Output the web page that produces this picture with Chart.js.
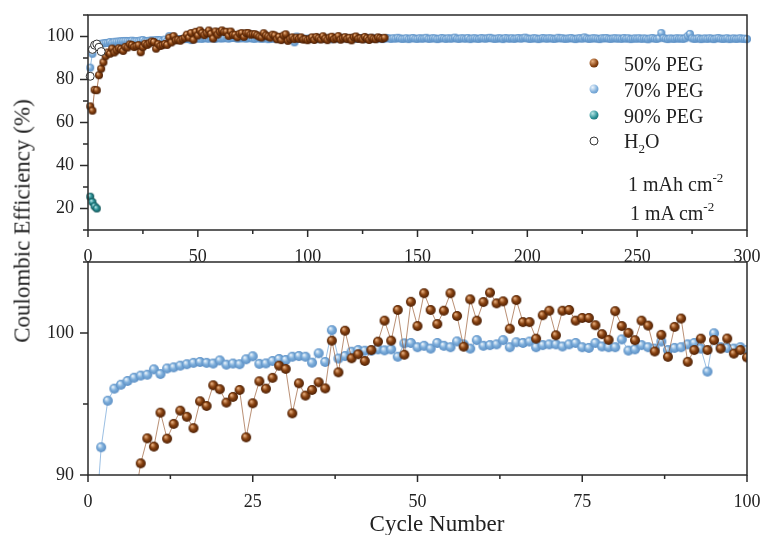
<!DOCTYPE html>
<html><head><meta charset="utf-8">
<script src="https://cdn.jsdelivr.net/npm/chart.js@4/dist/chart.umd.min.js"></script>
<style>
html,body{margin:0;padding:0;background:#fff;}
#wrap{position:relative;width:763px;height:535px;overflow:hidden;font-family:"Liberation Serif","Times New Roman",serif;color:#222;}
canvas{position:absolute;left:0;}
#c1{top:0;} #c2{top:252px;}
.lbl{position:absolute;white-space:nowrap;line-height:1;}
.lg{position:absolute;left:624px;font-size:20px;line-height:1;transform:translateY(-50%);white-space:nowrap;}
.mk{position:absolute;width:9px;height:9px;border-radius:50%;transform:translate(-50%,-50%);left:594px;}
sup{font-size:13px;vertical-align:0;position:relative;top:-9px;}
sub{font-size:13px;vertical-align:0;position:relative;top:5px;}
</style></head><body>
<div id="wrap">
<canvas id="c1" width="763" height="262" style="width:763px;height:262px"></canvas>
<canvas id="c2" width="763" height="283" style="width:763px;height:283px"></canvas>
<div class="lbl" id="ytitle" style="left:22px;top:221px;font-size:23px;transform:translate(-50%,-50%) rotate(-90deg);">Coulombic Efficiency (%)</div>
<div class="lbl" id="xtitle" style="left:437px;top:523px;font-size:23px;transform:translate(-50%,-50%);">Cycle Number</div>
<div class="mk" style="top:63px;background:radial-gradient(circle at 35% 32%,#e8b080 0%,#8a4412 55%,#4a1e04 100%);"></div>
<div class="lg" style="top:64px;">50% PEG</div>
<div class="mk" style="top:89px;background:radial-gradient(circle at 35% 32%,#eef5fc 0%,#7eaedb 55%,#5b8fc4 100%);"></div>
<div class="lg" style="top:90px;">70% PEG</div>
<div class="mk" style="top:115px;background:radial-gradient(circle at 35% 32%,#b8e6e6 0%,#2a9196 55%,#15595c 100%);"></div>
<div class="lg" style="top:116px;">90% PEG</div>
<div class="mk" style="top:141px;width:7px;height:7px;background:#fff;border:1px solid #333;"></div>
<div class="lg" style="top:141px;">H<sub>2</sub>O</div>
<div class="lbl" style="left:628px;top:174px;font-size:20px;">1 mAh cm<sup>-2</sup></div>
<div class="lbl" style="left:630px;top:203px;font-size:20px;">1 mA cm<sup>-2</sup></div>
</div>
<script>
// ---- data ----
const peg50 = [
67.5,65.5,75.2,75.0,82.0,85.0,88.0,90.82,92.58,92.0,
94.39,92.56,93.6,94.53,94.1,93.3,95.19,94.86,96.32,96.04,
95.1,95.5,95.99,92.65,95.05,96.6,96.08,96.84,97.7,97.47,
94.34,96.46,95.59,95.99,96.53,96.1,99.46,97.23,100.16,98.22,
98.5,98.03,98.8,99.39,100.87,99.46,101.62,98.47,102.2,100.49,
102.8,101.62,100.63,101.57,102.8,101.2,99.04,102.37,100.87,102.18,
102.84,102.09,102.23,100.3,102.32,100.77,100.77,99.6,101.25,101.57,
99.84,101.57,101.62,100.87,101.06,101.06,100.55,99.92,99.52,101.54,
100.49,100.01,99.49,100.87,100.52,98.7,99.87,98.32,100.43,101.02,
97.97,98.8,99.6,98.8,99.5,98.9,99.61,98.55,98.8,98.28,
98.9,99.6,98.4,99.8,99.2,98.6,100.1,99.0,98.3,99.5,
99.9,98.7,99.3,100.2,98.5,99.1,99.7,98.8,99.4,98.2,
99.6,100.0,98.9,99.2,98.6,99.8,99.1,98.4,99.5,99.0,
98.7,99.6,99.3,98.9,99.4];
const peg70 = [
85.5,91.95,95.23,96.08,96.36,96.62,96.85,97.0,97.06,97.44,
97.11,97.5,97.58,97.7,97.8,97.9,97.96,97.9,97.85,98.07,
97.77,97.85,97.8,98.15,98.36,97.83,97.86,98.03,98.17,98.1,
98.33,98.38,98.33,97.91,98.57,97.96,100.2,98.2,98.38,98.68,
98.8,98.75,98.75,98.85,98.78,98.85,98.33,99.27,99.3,99.0,
99.1,98.9,99.3,99.1,99.0,99.41,99.2,98.9,99.5,99.1,
99.15,99.2,99.5,99.0,99.35,99.3,99.4,99.0,99.15,99.2,
99.2,99.05,99.2,99.3,99.0,98.95,99.3,99.05,99.0,99.0,
99.55,98.76,98.85,99.15,99.0,98.9,99.4,98.8,98.95,99.0,
99.2,99.3,98.9,97.28,99.98,99.0,98.95,98.9,99.0,98.8,
99.1,98.9,99.2,99.0,98.8,99.3,99.1,98.9,99.0,99.2,
98.7,99.1,99.3,99.0,98.9,99.2,99.4,99.0,98.8,99.1,
99.2,98.9,99.0,99.3,99.1,98.8,99.0,99.2,99.4,99.0,
98.9,99.1,99.2,98.8,99.0,99.3,99.1,98.9,99.2,99.0,
99.4,99.1,98.9,99.0,99.2,98.8,99.1,99.3,99.0,98.9,
99.2,99.0,99.1,99.4,98.9,99.0,99.2,99.1,98.8,99.0,
99.3,99.1,98.9,99.2,99.0,99.1,99.5,99.0,98.9,99.2,
99.1,99.0,99.3,98.8,99.1,99.2,99.0,98.9,99.3,99.1,
99.0,99.2,99.4,99.1,98.9,99.0,99.2,99.1,98.8,99.3,
99.1,99.0,99.2,98.9,99.1,99.3,99.0,99.2,99.5,99.1,
98.9,99.0,99.2,99.1,98.8,99.0,99.3,99.1,99.0,99.2,
99.1,98.9,99.0,99.4,99.1,99.2,98.9,99.0,99.1,99.3,
99.0,98.8,99.1,99.2,99.0,99.6,99.1,98.9,99.0,99.2,
99.1,99.0,98.8,99.2,99.1,99.3,99.0,98.9,99.1,99.2,
99.0,99.1,98.9,99.3,99.0,99.2,98.8,99.0,99.1,99.0,
99.2,98.9,99.1,99.0,98.7,99.1,99.3,99.0,98.9,99.2,
101.6,99.3,99.0,98.8,99.1,99.0,98.9,99.2,99.0,99.1,
98.9,99.2,100.2,101.2,99.1,98.9,99.0,99.2,98.8,99.0,
99.1,98.9,99.2,99.0,98.8,99.1,99.3,99.0,98.9,99.0,
99.2,98.8,99.0,99.1,98.9,99.0,99.2,98.9,99.0,98.8];
const peg90 = [25.5,23.0,21.0,20.0];
const water = [81.5,94.0,96.0,96.5,95.0,93.0];
const seriesNames = ['50% PEG','70% PEG','90% PEG','H2O'];
const topXTicks = [0,50,100,150,200,250,300];
const topYTicks = [20,40,60,80,100];
const botXTicks = [0,25,50,75,100];
const botYTicks = [90,100];

const pts = (arr, maxX) => arr.map((v,i)=>({x:i+1,y:v})).filter(p=>p.x<=maxX);

function sphere(r, light, base, dark){
  const s = Math.ceil(2*r+2), c = s/2;
  const cv = document.createElement('canvas'); cv.width=s; cv.height=s;
  const g = cv.getContext('2d');
  const grad = g.createRadialGradient(c-r*0.35, c-r*0.4, r*0.05, c, c, r);
  grad.addColorStop(0, light); grad.addColorStop(0.5, base); grad.addColorStop(1, dark);
  g.fillStyle = grad; g.beginPath(); g.arc(c,c,r,0,Math.PI*2); g.fill();
  return cv;
}
const COL = {
  brown:['#f0b888','#8a4412','#4a1e04'],
  blue:['#f2f8fd','#80b0dc','#5a8ec4'],
  teal:['#c0eaea','#2a9196','#135255']
};
const FONT = {family:'"Liberation Serif","Times New Roman",serif', size:18};
const AX = '#2a2a2a';

const framePlugin = {
  id:'frame',
  beforeDraw(chart){
    if(chart.options.plugins.frame && chart.options.plugins.frame.fill){
      const a = chart.chartArea, ctx = chart.ctx;
      ctx.save(); ctx.fillStyle='#fff'; ctx.fillRect(a.left,a.top,a.right-a.left,a.bottom-a.top); ctx.restore();
    }
  },
  afterDraw(chart){
    const a = chart.chartArea, ctx = chart.ctx;
    ctx.save();
    ctx.strokeStyle = AX; ctx.lineWidth = 1.5;
    ctx.strokeRect(a.left, a.top, a.right-a.left, a.bottom-a.top);
    const sx = chart.scales.x, sy = chart.scales.y;
    const majX = chart.options.plugins.frame.majX, majY = chart.options.plugins.frame.majY;
    sx.ticks.forEach(t=>{
      const p = sx.getPixelForValue(t.value);
      const len = majX.includes(t.value) ? 7 : 4;
      ctx.beginPath(); ctx.moveTo(p, a.bottom); ctx.lineTo(p, a.bottom+len); ctx.stroke();
    });
    sy.ticks.forEach(t=>{
      const p = sy.getPixelForValue(t.value);
      const len = majY.includes(t.value) ? 8 : 5;
      ctx.beginPath(); ctx.moveTo(a.left, p); ctx.lineTo(a.left-len, p); ctx.stroke();
    });
    ctx.restore();
  }
};

function axes(xmin,xmax,xstep,xlabels,ymin,ymax,ystep,ylabels,xh,xpad){
  return {
    x:{type:'linear',min:xmin,max:xmax,position:'bottom',
       ticks:{stepSize:xstep,autoSkip:false,maxRotation:0,font:FONT,color:'#222',padding:xpad,
              callback:v=>xlabels.includes(v)?String(v):''},
       grid:{drawOnChartArea:false,tickLength:7,tickColor:'rgba(0,0,0,0)'},
       border:{display:false},
       afterFit:s=>{s.height=xh;s.paddingLeft=0;s.paddingRight=0;}},
    y:{type:'linear',min:ymin,max:ymax,
       ticks:{stepSize:ystep,autoSkip:false,font:FONT,color:'#222',padding:6,
              callback:v=>ylabels.includes(v)?String(v):''},
       grid:{drawOnChartArea:false,tickLength:8,tickColor:'rgba(0,0,0,0)'},
       border:{display:false},
       afterFit:s=>{s.width=88;s.paddingTop=0;s.paddingBottom=0;}}
  };
}

// ---- top chart ----
const rT = 4;
new Chart(document.getElementById('c1'), {
  type:'line',
  data:{datasets:[
    {label:seriesNames[3], data:pts(water,300), showLine:false, pointStyle:'circle', pointRadius:4,
     pointBackgroundColor:'#fff', pointBorderColor:'#333', pointBorderWidth:1},
    {label:seriesNames[2], data:pts(peg90,300), borderColor:'#3a9a9e', borderWidth:1,
     pointStyle:sphere(rT,...COL.teal), pointRadius:rT},
    {label:seriesNames[0], data:pts(peg50,300), borderColor:'rgba(140,70,25,0.7)', borderWidth:1,
     pointStyle:sphere(rT,...COL.brown), pointRadius:rT},
    {label:seriesNames[1], data:pts(peg70,300), borderColor:'rgba(120,170,215,0.8)', borderWidth:1,
     pointStyle:sphere(rT,...COL.blue), pointRadius:rT}
  ]},
  options:{
    responsive:false, animation:false, devicePixelRatio:1,
    layout:{padding:{top:15,right:16,left:0,bottom:0}},
    datasets:{line:{clip:false,tension:0}},
    plugins:{legend:{display:false},tooltip:{enabled:false},
             frame:{fill:false,majX:topXTicks,majY:topYTicks}},
    scales:axes(0,300,25,topXTicks,10,110,10,topYTicks,32,9)
  },
  plugins:[framePlugin]
});

// ---- bottom chart ----
const rB = 5;
new Chart(document.getElementById('c2'), {
  type:'line',
  data:{datasets:[
    {label:seriesNames[0], data:pts(peg50,100), borderColor:'rgba(140,70,25,0.6)', borderWidth:1,
     pointStyle:sphere(rB,...COL.brown), pointRadius:rB},
    {label:seriesNames[1], data:pts(peg70,100), borderColor:'rgba(130,175,220,0.8)', borderWidth:1,
     pointStyle:sphere(rB,...COL.blue), pointRadius:rB}
  ]},
  options:{
    responsive:false, animation:false, devicePixelRatio:1,
    layout:{padding:{top:10,right:16,left:0,bottom:0}},
    datasets:{line:{clip:0,tension:0}},
    plugins:{legend:{display:false},tooltip:{enabled:false},
             frame:{fill:true,majX:botXTicks,majY:botYTicks}},
    scales:axes(0,100,12.5,botXTicks,90,105,5,botYTicks,60,9)
  },
  plugins:[framePlugin]
});
</script>
</body></html>
